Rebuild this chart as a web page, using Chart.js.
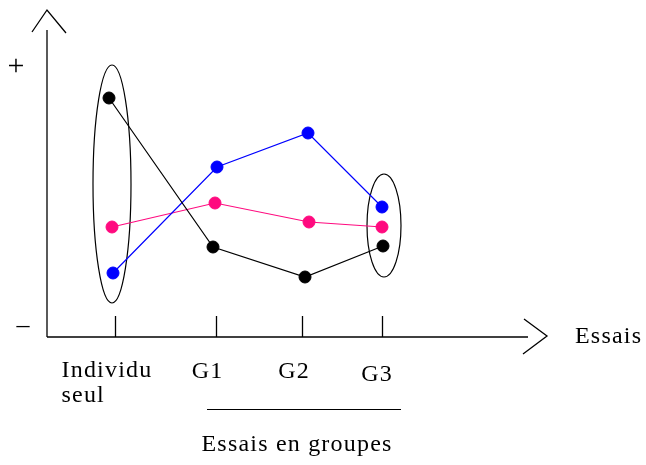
<!DOCTYPE html>
<html>
<head>
<meta charset="utf-8">
<script src="https://cdn.jsdelivr.net/npm/chart.js@4/dist/chart.umd.min.js"></script>
<style>
  html, body { margin: 0; padding: 0; background: #fff; }
  #wrap { width: 646px; height: 465px; }
</style>
</head>
<body>
<div id="wrap"><canvas id="c" width="646" height="465"></canvas></div>
<script>
// ---- Data (arbitrary units: x = position along "Essais", y = performance from − to +) ----
const categories = [["Individu", "seul"], ["G1"], ["G2"], ["G3"]];
const tickPositions = [6.85, 16.85, 25.5, 33.5];

const blackX = [6.2, 16.6, 25.8, 33.6];
const blackY = [23.9, 9.0, 6.0, 9.1];
const blueX  = [6.6, 17.0, 26.1, 33.5];
const blueY  = [6.4, 17.0, 20.4, 13.0];
const pinkX  = [6.5, 16.8, 26.2, 33.5];
const pinkY  = [11.0, 13.4, 11.5, 11.0];

const xAxisTitle = "Essais";
const groupTitle = "Essais en groupes";
const yHigh = "+";
const yLow = "–";

// ellipses grouping points: centre x, centre y, half-width, half-height (data units)
const ellipseCX = [6.5, 33.7];
const ellipseCY = [15.3, 11.15];
const ellipseRX = [1.9, 1.7];
const ellipseRY = [11.9, 5.15];

// group bracket spans G1..G3 region (data units)
const bracketFrom = 16.0;
const bracketTo = 35.4;

const toPts = (xs, ys) => xs.map((x, i) => ({ x: x, y: ys[i] }));

const FONT = '24px "Liberation Serif", "Times New Roman", serif';

const decor = {
  id: 'decor',
  beforeDatasetsDraw(chart) {
    const ctx = chart.ctx;
    const xs = chart.scales.x, ys = chart.scales.y;
    const a = chart.chartArea;
    ctx.save();
    ctx.strokeStyle = '#000';
    ctx.lineWidth = 1.3;
    ctx.lineCap = 'butt';
    // y axis
    const x0 = a.left, y0 = a.bottom;
    ctx.beginPath();
    ctx.moveTo(x0, y0); ctx.lineTo(x0, a.top + 20);
    ctx.stroke();
    // y arrow head
    ctx.beginPath();
    ctx.moveTo(x0 - 15, a.top + 22); ctx.lineTo(x0, a.top); ctx.lineTo(x0 + 19, a.top + 23);
    ctx.stroke();
    // x axis
    ctx.beginPath();
    ctx.moveTo(x0, y0); ctx.lineTo(a.right - 19, y0);
    ctx.stroke();
    ctx.beginPath();
    ctx.moveTo(a.right - 23, y0 - 18); ctx.lineTo(a.right, y0 - 1); ctx.lineTo(a.right - 24, y0 + 17);
    ctx.stroke();
    // ticks (drawn upward from axis)
    tickPositions.forEach(v => {
      const px = Math.round(xs.getPixelForValue(v)) + 0.5;
      ctx.beginPath();
      ctx.moveTo(px, y0); ctx.lineTo(px, y0 - 21);
      ctx.stroke();
    });
    // ellipses
    ctx.lineWidth = 1.2;
    ellipseCX.forEach((cx, i) => {
      const px = xs.getPixelForValue(cx);
      const py = ys.getPixelForValue(ellipseCY[i]);
      const rx = Math.abs(xs.getPixelForValue(cx + ellipseRX[i]) - px);
      const ry = Math.abs(ys.getPixelForValue(ellipseCY[i] + ellipseRY[i]) - py);
      ctx.beginPath();
      ctx.ellipse(px, py, rx, ry, 0, 0, Math.PI * 2);
      ctx.stroke();
    });
    // group bracket line
    ctx.lineWidth = 1.2;
    ctx.beginPath();
    ctx.moveTo(xs.getPixelForValue(bracketFrom), 409.5);
    ctx.lineTo(xs.getPixelForValue(bracketTo), 409.5);
    ctx.stroke();

    // texts
    ctx.fillStyle = '#000';
    ctx.font = FONT;
    if ('letterSpacing' in ctx) ctx.letterSpacing = '1.2px';
    ctx.textBaseline = 'alphabetic';
    // category labels
    const labelOffsets = [-54, -8, -8, -5];
    const labelDy = [0, 0, 0, 3];
    categories.forEach((lines, i) => {
      const px = xs.getPixelForValue(tickPositions[i]);
      lines.forEach((t, j) => {
        if (i === 0) {
          ctx.textAlign = 'left';
          ctx.fillText(t, px + labelOffsets[i], y0 + 40 + j * 25);
        } else {
          ctx.textAlign = 'center';
          ctx.fillText(t, px + labelOffsets[i], y0 + 41 + labelDy[i] + j * 25);
        }
      });
    });
    ctx.textAlign = 'left';
    ctx.fillText(xAxisTitle, a.right + 28, y0 + 6);
    ctx.textAlign = 'center';
    ctx.fillText(groupTitle, 297, 451);
    ctx.letterSpacing = '0px';
    ctx.font = '30px "Liberation Serif", "Times New Roman", serif';
    ctx.fillText(yHigh, 16, 75);
    ctx.font = '26px "Liberation Serif", "Times New Roman", serif';
    ctx.fillText(yLow, 23, 333);
    ctx.restore();
  }
};

const mk = (label, color, pts) => ({
  label: label,
  data: pts,
  borderColor: color,
  backgroundColor: color,
  pointBackgroundColor: color,
  pointBorderColor: color,
  pointRadius: 6,
  pointBorderWidth: 1,
  borderWidth: 1.2,
  tension: 0,
  showLine: true,
  fill: false
});

new Chart(document.getElementById('c'), {
  type: 'scatter',
  data: {
    datasets: [
      mk('Noir', '#000000', toPts(blackX, blackY)),
      mk('Bleu', '#0000ff', toPts(blueX, blueY)),
      mk('Rose', '#ff0a7f', toPts(pinkX, pinkY))
    ]
  },
  options: {
    responsive: false,
    animation: false,
    layout: { padding: { left: 47, right: 99, top: 10, bottom: 128 } },
    plugins: { legend: { display: false }, tooltip: { enabled: false } },
    scales: {
      x: { type: 'linear', min: 0, max: 50, display: false },
      y: { type: 'linear', min: 0, max: 32.7, display: false }
    }
  },
  plugins: [decor]
});
</script>
</body>
</html>
